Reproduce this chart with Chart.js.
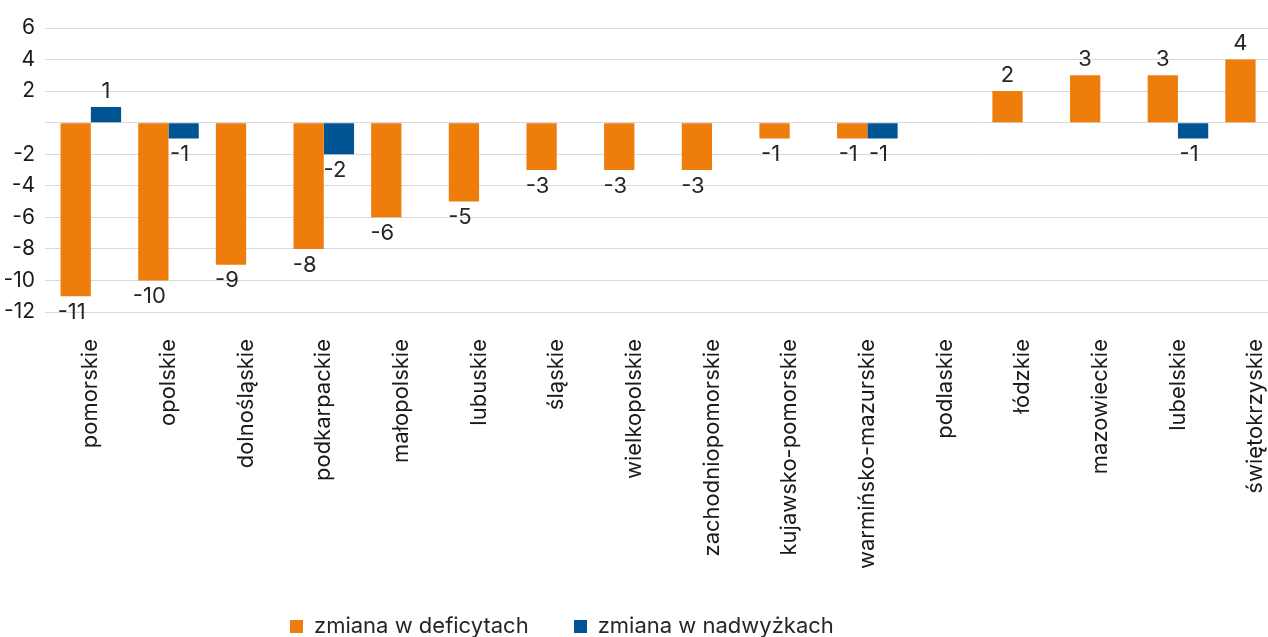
<!DOCTYPE html>
<html>
<head>
<meta charset="utf-8">
<script src="https://cdn.jsdelivr.net/npm/chart.js@4"></script>
<style>
    body { margin: 0; overflow: hidden; background: #fff; font-family: Inter, sans-serif; }
    #wrap { position: relative; width: 1301px; height: 637px; }
    #legend { position: absolute; left: 290px; top: 611px; font-size: 22px; line-height: 28px; color: #262626; white-space: nowrap; }
    #legend span.box { display: inline-block; width: 13px; height: 13px; margin-right: 11px; vertical-align: 0px; }
    #legend span.item { margin-right: 45px; }
</style>
</head>
<body>
<div id="wrap">
    <canvas id="myChart"></canvas>
    <div id="legend"></div>
</div>
<script>
// dane
var regions = ['pomorskie', 'opolskie', 'dolnośląskie', 'podkarpackie', 'małopolskie', 'lubuskie', 'śląskie',
    'wielkopolskie', 'zachodniopomorskie', 'kujawsko-pomorskie', 'warmińsko-mazurskie', 'podlaskie',
    'łódzkie', 'mazowieckie', 'lubelskie', 'świętokrzyskie'];
var deficyty = [-11, -10, -9, -8, -6, -5, -3, -3, -3, -1, -1, 0, 2, 3, 3, 4];
var nadwyzki = [1, -1, 0, -2, 0, 0, 0, 0, 0, 0, -1, 0, 0, 0, -1, 0];
var seriesNames = ['zmiana w deficytach', 'zmiana w nadwyżkach'];
var seriesColors = ['#ef7d0b', '#005494'];

var fontFamily = 'Inter, sans-serif';

// etykiety nad/pod słupkami
var barLabels = {
    id: 'barLabels',
    afterDatasetsDraw: function(chart) {
        var ctx = chart.ctx;
        ctx.save();
        ctx.font = '22px ' + fontFamily;
        ctx.fillStyle = '#262626';
        ctx.textAlign = 'center';
        ctx.textBaseline = 'middle';
        chart.data.datasets.forEach(function(ds, i) {
            var meta = chart.getDatasetMeta(i);
            meta.data.forEach(function(bar, j) {
                var v = ds.data[j];
                if (v === 0) return;
                var y = v > 0 ? bar.y - 16 : bar.y + 16;
                ctx.fillText(String(v), bar.x - (v < 0 ? 4 : 0), y);
            });
        });
        ctx.restore();
    }
};

var data = {
    labels: regions,
    datasets: [{
        label: seriesNames[0],
        backgroundColor: seriesColors[0],
        data: deficyty
    }, {
        label: seriesNames[1],
        backgroundColor: seriesColors[1],
        data: nadwyzki
    }]
};

var config = {
    type: 'bar',
    data: data,
    options: {
        responsive: false,
        animation: false,
        layout: { padding: { top: 28, right: 0, bottom: 49, left: 0 } },
        datasets: { bar: { categoryPercentage: 0.78, barPercentage: 1.0 } },
        plugins: {
            legend: { display: false },
            tooltip: { enabled: false }
        },
        scales: {
            x: {
                grid: { display: false },
                border: { display: false },
                ticks: {
                    autoSkip: false,
                    minRotation: 90,
                    maxRotation: 90,
                    padding: 19,
                    color: '#1a1a1a',
                    font: { family: fontFamily, size: 22 }
                }
            },
            y: {
                min: -12,
                max: 6,
                afterFit: function(scale) { scale.width = 52; },
                grid: { color: '#d9d9d9', lineWidth: 1, tickLength: 7 },
                border: { display: false },
                ticks: {
                    stepSize: 2,
                    padding: 10,
                    color: '#1a1a1a',
                    font: { family: fontFamily, size: 21 },
                    callback: function(v) { return v === 0 ? '' : v; }
                }
            }
        }
    },
    plugins: [barLabels]
};

var canvas = document.getElementById('myChart');
canvas.width = 1301;
canvas.height = 637;
var myChart = new Chart(canvas, config);

var legendDiv = document.getElementById('legend');
for (let i = 0; i < seriesNames.length; i++) {
    legendDiv.innerHTML += `<span class="item"><span class="box" style="background:${seriesColors[i]}"></span>${seriesNames[i]}</span>`;
}
</script>
</body>
</html>
